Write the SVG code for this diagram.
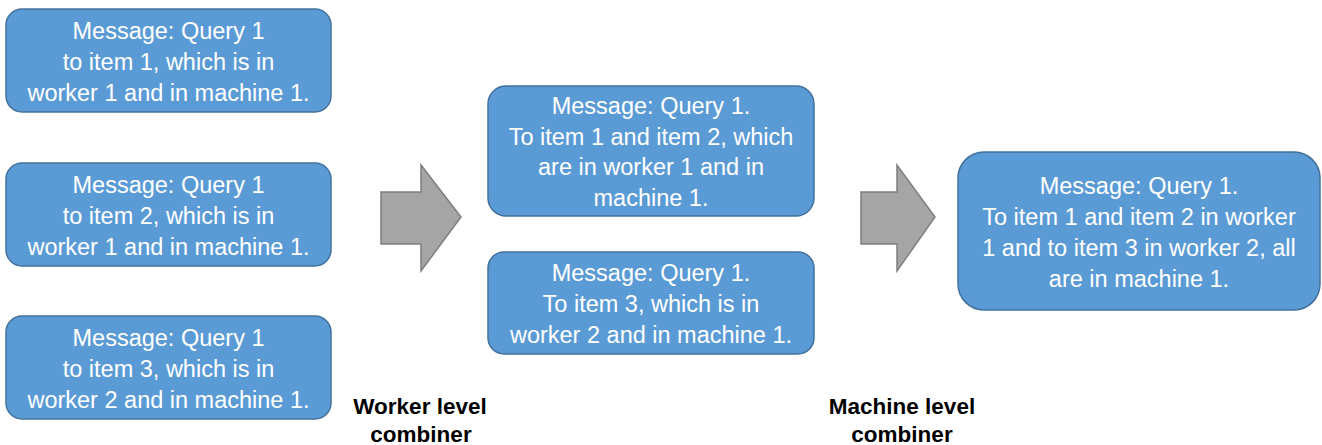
<svg xmlns="http://www.w3.org/2000/svg" width="1322" height="445" viewBox="0 0 1322 445">
  <style>
    .box { fill: #5B9BD5; stroke: #41719C; stroke-width: 1.5; }
    .arrow { fill: #A5A5A5; stroke: #7F7F7F; stroke-width: 1.5; }
    .t { font-family: "Liberation Sans", Arial, sans-serif; font-size: 23.5px; fill: #FFFFFF; text-anchor: middle; }
    .lbl { font-family: "Liberation Sans", Arial, sans-serif; font-size: 22.5px; font-weight: bold; fill: #000000; text-anchor: middle; }
  </style>
  <rect width="1322" height="445" fill="#FFFFFF"/>

  <!-- input messages -->
  <g id="msg1">
    <rect class="box" x="6" y="9" width="325" height="103" rx="16"/>
    <text class="t" x="168.5" y="39">Message: Query 1</text>
    <text class="t" x="168.5" y="70">to item 1, which is in</text>
    <text class="t" x="168.5" y="101">worker 1 and in machine 1.</text>
  </g>
  <g id="msg2">
    <rect class="box" x="6" y="163" width="325" height="103" rx="16"/>
    <text class="t" x="168.5" y="193">Message: Query 1</text>
    <text class="t" x="168.5" y="224">to item 2, which is in</text>
    <text class="t" x="168.5" y="255">worker 1 and in machine 1.</text>
  </g>
  <g id="msg3">
    <rect class="box" x="6" y="316" width="325" height="103" rx="16"/>
    <text class="t" x="168.5" y="346">Message: Query 1</text>
    <text class="t" x="168.5" y="377">to item 3, which is in</text>
    <text class="t" x="168.5" y="408">worker 2 and in machine 1.</text>
  </g>

  <!-- worker level output -->
  <g id="worker1">
    <rect class="box" x="488" y="86" width="326" height="130" rx="18"/>
    <text class="t" x="651" y="114">Message: Query 1.</text>
    <text class="t" x="651" y="145">To item 1 and item 2, which</text>
    <text class="t" x="651" y="175">are in worker 1 and in</text>
    <text class="t" x="651" y="206">machine 1.</text>
  </g>
  <g id="worker2">
    <rect class="box" x="488" y="252" width="326" height="102" rx="16"/>
    <text class="t" x="651" y="281">Message: Query 1.</text>
    <text class="t" x="651" y="312">To item 3, which is in</text>
    <text class="t" x="651" y="343">worker 2 and in machine 1.</text>
  </g>

  <!-- machine level output -->
  <g id="machine">
    <rect class="box" x="958" y="152" width="362" height="158" rx="26"/>
    <text class="t" x="1139" y="194">Message: Query 1.</text>
    <text class="t" x="1139" y="225">To item 1 and item 2 in worker</text>
    <text class="t" x="1139" y="256">1 and to item 3 in worker 2, all</text>
    <text class="t" x="1139" y="287">are in machine 1.</text>
  </g>

  <!-- combiner arrows -->
  <g id="connectors">
    <polygon class="arrow" points="381,192 421,192 421,165 461,217 421,271 421,244 381,244"/>
    <polygon class="arrow" points="861,192 897,192 897,165 935,217 897,271 897,244 861,244"/>
  </g>

  <g id="labels">
    <text class="lbl" x="420" y="414">Worker level</text>
    <text class="lbl" x="421" y="442">combiner</text>
    <text class="lbl" x="902" y="414">Machine level</text>
    <text class="lbl" x="902" y="442">combiner</text>
  </g>
</svg>
